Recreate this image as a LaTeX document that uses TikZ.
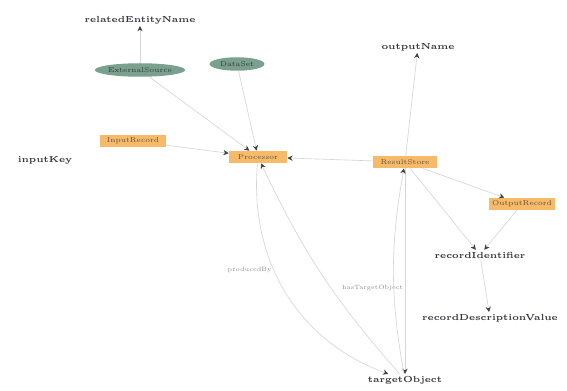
\documentclass[tikz,border=0pt]{standalone}
\usetikzlibrary{arrows.meta,shapes.geometric}
\definecolor{orng}{RGB}{247,186,104}
\definecolor{grn}{RGB}{122,160,142}
\definecolor{edg}{RGB}{212,212,218}
\definecolor{txt}{RGB}{55,55,65}
\begin{document}
\begin{tikzpicture}[x=0.02cm,y=-0.02cm,
  box/.style={fill=orng,draw=none,minimum width=#1,minimum height=0.24cm,inner sep=1pt,font=\fontsize{4}{4}\selectfont,text=txt!80!orng},
  oval/.style={ellipse,fill=grn,draw=none,minimum width=#1,minimum height=0.27cm,inner sep=0pt,font=\fontsize{4}{4}\selectfont,text=txt},
  plain/.style={inner sep=1pt,font=\fontsize{5}{5}\selectfont\bfseries,text=txt},
  elab/.style={inner sep=1pt,font=\fontsize{3.5}{3.5}\selectfont,text=black!45},
  conn/.style={draw=edg,line width=0.35pt,-{Stealth[length=3pt,width=3pt,black!75]}}]
\useasboundingbox[fill=white] (0,0) rectangle (567,391);
% nodes
\node[plain] (A) at (140,20) {relatedEntityName};
\node[oval=1.5cm] (B) at (140,70) {ExternalSource};
\node[oval=1.1cm] (C) at (237,64) {DataSet};
\node[box=1.32cm] (D) at (133,141) {InputRecord};
\node[plain] (E) at (45,160) {inputKey};
\node[box=1.16cm] (F) at (258,157) {Processor};
\node[plain] (G) at (418,47) {outputName};
\node[box=1.28cm] (H) at (405,162) {ResultStore};
\node[box=1.32cm] (I) at (522,204) {OutputRecord};
\node[plain] (J) at (480,255) {recordIdentifier};
\node[plain] (K) at (490,318) {recordDescriptionValue};
\node[plain] (L) at (405,380) {targetObject};
% connectors
\draw[conn] (B) -- (A);
\draw[conn] (B) -- (F);
\draw[conn] (C) -- (F);
\draw[conn] (D) -- (F);
\draw[conn] (H) -- (F);
\draw[conn] (H) -- (G);
\draw[conn] (H) -- (I);
\draw[conn] (H) -- (J);
\draw[conn] (I) -- (J);
\draw[conn] (J) -- (K);
\draw[conn] (H.south) -- (L.north) node[elab,pos=0.58,left] (N) {hasTargetObject};
\draw[conn] (L) to[bend left=10] (H);
\draw[conn] (F) to[out=-95,in=160] node[elab,pos=0.4,left] (M) {producedBy} (L);
\draw[conn] (L) to[bend left=8] (F);
\end{tikzpicture}
\end{document}
